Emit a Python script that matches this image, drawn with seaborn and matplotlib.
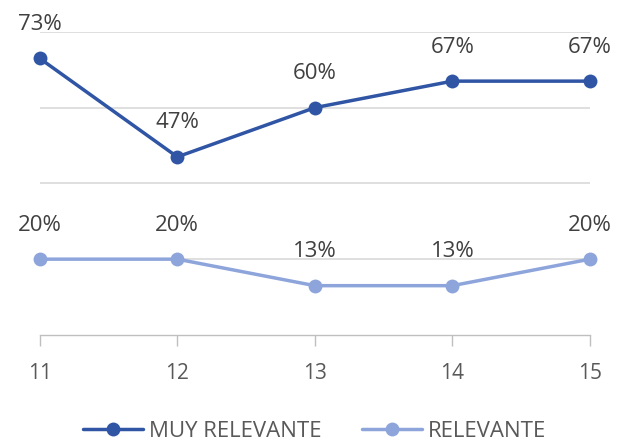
import matplotlib
matplotlib.use("Agg")
import matplotlib.pyplot as plt
import seaborn as sns
import pandas as pd

categories = [11, 12, 13, 14, 15]
muy_relevante = [73, 47, 60, 67, 67]
relevante = [20, 20, 13, 13, 20]
series_names = ["MUY RELEVANTE", "RELEVANTE"]
colors = ["#2F55A4", "#8EA5DB"]

df = pd.DataFrame({
    "x": categories * 2,
    "y": muy_relevante + relevante,
    "serie": [series_names[0]] * len(categories) + [series_names[1]] * len(categories),
})

sns.set_style("white")
plt.rcParams['font.family'] = ['Open Sans', 'DejaVu Sans']

fig = plt.figure(figsize=(6.21, 4.43), dpi=100)
ax = fig.add_axes([0.064, 0.244, 0.886, 0.684])

sns.lineplot(data=df, x="x", y="y", hue="serie", palette=colors, marker="o",
             markersize=10, markeredgewidth=0, linewidth=2.5, ax=ax, legend=True)
for line in ax.lines:
    line.set_clip_on(False)

for vals, name in zip([muy_relevante, relevante], series_names):
    for xv, yv in zip(categories, vals):
        ax.annotate(f"{yv}%", (xv, yv), xytext=(0, 17), textcoords="offset points",
                    ha="center", va="bottom", fontsize=16, color="#404040",
                    annotation_clip=False)

ax.set_xlim(11, 15)
ax.set_ylim(0, 80)
ax.set_yticks([20, 40, 60, 80])
ax.yaxis.grid(True, color="#D9D9D9", linewidth=1.2)
ax.set_axisbelow(True)
ax.tick_params(axis="y", left=False, labelleft=False)
ax.set_xticks(categories)
ax.set_xticklabels([str(c) for c in categories])
ax.tick_params(axis="x", bottom=True, length=8, width=1, color="#BFBFBF",
               labelsize=15, labelcolor="#595959", pad=12)
for s in ["top", "right", "left"]:
    ax.spines[s].set_visible(False)
ax.spines["bottom"].set_color("#BFBFBF")
ax.spines["bottom"].set_linewidth(1)
ax.set_xlabel("")
ax.set_ylabel("")

handles, labels = ax.get_legend_handles_labels()
ax.legend(handles, labels, loc="center", bbox_to_anchor=(0.5, -0.318), ncol=2,
          frameon=False, fontsize=16, handlelength=2.7, columnspacing=1.8,
          handletextpad=0.27, labelcolor="#595959")

fig.savefig("out.png", dpi=100)
